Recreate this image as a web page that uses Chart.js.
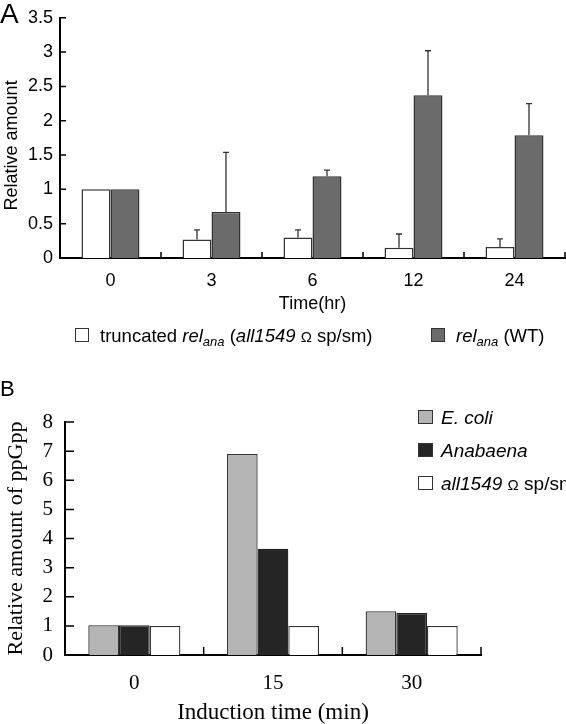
<!DOCTYPE html>
<html>
<head>
<meta charset="utf-8">
<script src="https://cdn.jsdelivr.net/npm/chart.js@4.4.0/dist/chart.umd.min.js"></script>
<style>
  body { margin: 0; background: #fff; }
  #wrap { position: relative; width: 566px; height: 724px; overflow: hidden;
          font-family: "Liberation Sans", Arial, sans-serif; color: #000; }
  canvas { position: absolute; left: 0; }
  #chartA { top: 0; }
  #chartB { top: 360px; }
  .panel { position: absolute; left: 0; line-height: 1; }
  .txt { position: absolute; white-space: nowrap; line-height: 1; }
  .box { position: absolute; box-sizing: border-box; border: 1.3px solid #333; }
  sub { font-size: 13px; vertical-align: -4px; line-height: 0; }
  .om { font-size: 15px; font-style: normal; }
</style>
</head>
<body>
<div id="wrap">
  <canvas id="chartA" width="566" height="360"></canvas>
  <canvas id="chartB" width="566" height="364"></canvas>

  <div class="panel" style="top:0;font-size:28px;">A</div>
  <div class="panel" style="top:378px;font-size:22px;">B</div>

  <!-- legend A -->
  <div class="box" style="left:75px;top:328px;width:14px;height:14px;background:#fff;"></div>
  <div class="txt" style="left:100px;top:327px;font-size:18.5px;">truncated <i>rel</i><sub><i>ana</i></sub> (<i>all1549</i> <span class="om">Ω</span> sp/sm)</div>
  <div class="box" style="left:431px;top:328px;width:14px;height:14px;background:#6b6b6b;"></div>
  <div class="txt" style="left:456px;top:327px;font-size:18.5px;"><i>rel</i><sub><i>ana</i></sub> (WT)</div>

  <!-- legend B -->
  <div class="box" style="left:418px;top:410px;width:15px;height:14px;background:#b4b4b4;"></div>
  <div class="txt" style="left:441px;top:408px;font-size:19px;"><i>E. coli</i></div>
  <div class="box" style="left:418px;top:443px;width:15px;height:14px;background:#252525;"></div>
  <div class="txt" style="left:441px;top:441px;font-size:19px;"><i>Anabaena</i></div>
  <div class="box" style="left:418px;top:476px;width:15px;height:14px;background:#fff;"></div>
  <div class="txt" style="left:441px;top:474px;font-size:19px;"><i>all1549</i> <span class="om">Ω</span> sp/sm</div>
</div>

<script>
// panel A: relative amount of rel transcript
var timeLabels = ['0', '3', '6', '12', '24'];
var truncatedValues = [1, 0.27, 0.30, 0.15, 0.16];
var truncatedErrors = [0, 0.14, 0.11, 0.20, 0.12];
var wtValues = [1, 0.67, 1.19, 2.37, 1.79];
var wtErrors = [0, 0.87, 0.09, 0.65, 0.46];

// panel B: ppGpp after induction
var inductionLabels = ['0', '15', '30'];
var ecoliValues = [1.02, 6.9, 1.5];
var anabaenaValues = [1.02, 3.65, 1.44];
var mutantValues = [1.0, 1.0, 1.0];

var sans = '"Liberation Sans", Arial, sans-serif';
var serif = '"Liberation Serif", "Times New Roman", serif';

// short tick marks pointing into the plot, between categories and at y ticks
var innerTicks = {
  id: 'innerTicks',
  afterDraw: function (chart, args, opts) {
    var ctx = chart.ctx, x = chart.scales.x, y = chart.scales.y;
    ctx.save();
    ctx.strokeStyle = '#000';
    ctx.lineWidth = opts.width;
    ctx.beginPath();
    var n = x.ticks.length, step = x.width / n;
    for (var i = 1; i <= n; i++) {
      var px = x.left + step * i;
      ctx.moveTo(px, x.top);
      ctx.lineTo(px, x.top - opts.xLen);
    }
    y.ticks.forEach(function (t, i) {
      var py = y.getPixelForTick(i);
      ctx.moveTo(y.right, py);
      ctx.lineTo(y.right + opts.yLen, py);
    });
    ctx.stroke();
    ctx.restore();
  }
};

// upper error bars
var errorBars = {
  id: 'errorBars',
  afterDatasetsDraw: function (chart) {
    var ctx = chart.ctx, y = chart.scales.y;
    ctx.save();
    ctx.strokeStyle = '#333';
    ctx.lineWidth = 1.3;
    chart.data.datasets.forEach(function (ds, di) {
      if (!ds.errors) return;
      chart.getDatasetMeta(di).data.forEach(function (bar, i) {
        var e = ds.errors[i];
        if (!e) return;
        var top = y.getPixelForValue(ds.data[i] + e);
        ctx.beginPath();
        ctx.moveTo(bar.x, bar.y);
        ctx.lineTo(bar.x, top);
        ctx.moveTo(bar.x - 3, top);
        ctx.lineTo(bar.x + 3, top);
        ctx.stroke();
      });
    });
    ctx.restore();
  }
};

new Chart(document.getElementById('chartA'), {
  type: 'bar',
  data: {
    labels: timeLabels,
    datasets: [
      { label: 'truncated', data: truncatedValues, errors: truncatedErrors,
        backgroundColor: '#fff', borderColor: '#333', borderWidth: 1.5 },
      { label: 'WT', data: wtValues, errors: wtErrors,
        backgroundColor: '#6b6b6b', borderColor: '#333', borderWidth: 1.5 }
    ]
  },
  options: {
    responsive: false,
    animation: false,
    devicePixelRatio: 1,
    datasets: { bar: { categoryPercentage: 0.574, barPercentage: 1 } },
    layout: { padding: { top: 16, left: 0, right: 1, bottom: 47 } },
    plugins: {
      legend: { display: false },
      tooltip: { enabled: false },
      innerTicks: { xLen: 6, yLen: 6, width: 1.5 }
    },
    scales: {
      x: {
        grid: { display: false, drawTicks: false },
        border: { display: true, color: '#000', width: 2 },
        ticks: { color: '#000', font: { family: sans, size: 18 }, padding: 12 },
        title: { display: true, text: 'Time(hr)', color: '#000',
                 font: { family: sans, size: 18, lineHeight: 1 }, padding: { top: 0, bottom: 0 } },
        afterFit: function (s) { s.height = 55; }
      },
      y: {
        min: 0, max: 3.5,
        grid: { display: false, drawTicks: false },
        border: { display: true, color: '#000', width: 2 },
        ticks: { stepSize: 0.5, color: '#000', font: { family: sans, size: 18 }, padding: 7,
                 callback: function (v) { return String(v); } },
        title: { display: true, text: 'Relative amount   ', color: '#000',
                 font: { family: sans, size: 18, lineHeight: 1 }, padding: { top: 3.5, bottom: 0 } },
        afterFit: function (s) { s.width = 60; }
      }
    }
  },
  plugins: [innerTicks, errorBars]
});

new Chart(document.getElementById('chartB'), {
  type: 'bar',
  data: {
    labels: inductionLabels,
    datasets: [
      { label: 'E. coli', data: ecoliValues, backgroundColor: '#b4b4b4', borderColor: '#333', borderWidth: 1.3 },
      { label: 'Anabaena', data: anabaenaValues, backgroundColor: '#252525', borderColor: '#222', borderWidth: 1.3 },
      { label: 'all1549 sp/sm', data: mutantValues, backgroundColor: '#fff', borderColor: '#333', borderWidth: 1.3 }
    ]
  },
  options: {
    responsive: false,
    animation: false,
    devicePixelRatio: 1,
    datasets: { bar: { categoryPercentage: 0.664, barPercentage: 1 } },
    layout: { padding: { top: 62, left: 0, right: 85, bottom: 0 } },
    plugins: {
      legend: { display: false },
      tooltip: { enabled: false },
      innerTicks: { xLen: 8, yLen: 9, width: 1.5 }
    },
    scales: {
      x: {
        grid: { display: false, drawTicks: false },
        border: { display: true, color: '#000', width: 2 },
        ticks: { color: '#000', font: { family: serif, size: 21 }, padding: 16 },
        title: { display: true, text: 'Induction time (min)', color: '#000',
                 font: { family: serif, size: 23, lineHeight: 1 }, padding: { top: 0, bottom: 0 } },
        afterFit: function (s) { s.height = 69; }
      },
      y: {
        min: 0, max: 8,
        grid: { display: false, drawTicks: false },
        border: { display: true, color: '#000', width: 2 },
        ticks: { stepSize: 1, color: '#000', font: { family: serif, size: 21 }, padding: 12 },
        title: { display: true, text: 'Relative amount of ppGpp', color: '#000',
                 font: { family: serif, size: 22, lineHeight: 1 }, padding: { top: 5, bottom: 0 } },
        afterFit: function (s) { s.width = 65; }
      }
    }
  },
  plugins: [innerTicks, errorBars]
});
</script>
</body>
</html>
